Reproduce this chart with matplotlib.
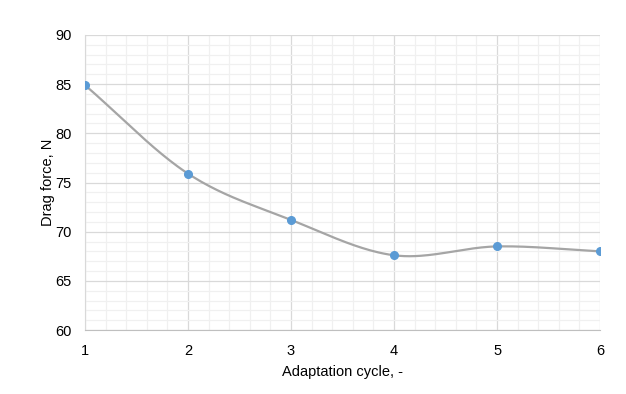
import numpy as np
import matplotlib
matplotlib.use('Agg')
import matplotlib.pyplot as plt
from matplotlib.ticker import MultipleLocator

# datos
ciclo = [1, 2, 3, 4, 5, 6]
fuerza = [84.9, 75.9, 71.2, 67.6, 68.5, 68.0]

plt.rcParams['font.family'] = ['Liberation Sans', 'DejaVu Sans']

fig = plt.figure(figsize=(6.26, 3.94), dpi=100)
ax = fig.add_axes([0.1358, 0.1624, 0.8227, 0.7488])

# curva suavizada tipo Excel (Catmull-Rom) solo para el trazo
x = np.array(ciclo, dtype=float)
y = np.array(fuerza, dtype=float)
px = np.concatenate([[2 * x[0] - x[1]], x, [2 * x[-1] - x[-2]]])
py = np.concatenate([[2 * y[0] - y[1]], y, [2 * y[-1] - y[-2]]])
cx, cy = [], []
t = np.linspace(0, 1, 40)
for i in range(1, len(px) - 2):
    p0x, p1x, p2x, p3x = px[i - 1], px[i], px[i + 1], px[i + 2]
    p0y, p1y, p2y, p3y = py[i - 1], py[i], py[i + 1], py[i + 2]
    b1x, b1y = p1x + (p2x - p0x) / 6, p1y + (p2y - p0y) / 6
    b2x, b2y = p2x - (p3x - p1x) / 6, p2y - (p3y - p1y) / 6
    cx.extend((1 - t) ** 3 * p1x + 3 * (1 - t) ** 2 * t * b1x + 3 * (1 - t) * t ** 2 * b2x + t ** 3 * p2x)
    cy.extend((1 - t) ** 3 * p1y + 3 * (1 - t) ** 2 * t * b1y + 3 * (1 - t) * t ** 2 * b2y + t ** 3 * p2y)

ax.plot(cx, cy, color='#a5a5a5', lw=1.6, zorder=3)
ax.plot(ciclo, fuerza, 'o', color='#5b9bd5', markersize=5.5, zorder=4)

ax.set_xlim(1, 6)
ax.set_ylim(60, 90)
ax.xaxis.set_major_locator(MultipleLocator(1))
ax.xaxis.set_minor_locator(MultipleLocator(0.2))
ax.yaxis.set_major_locator(MultipleLocator(5))
ax.yaxis.set_minor_locator(MultipleLocator(1))
ax.grid(which='major', color='#d9d9d9', lw=0.9)
ax.grid(which='minor', color='#f0f0f0', lw=0.9)
ax.set_axisbelow(True)

for s in ['top', 'right']:
    ax.spines[s].set_visible(False)
ax.spines['left'].set_color('#d9d9d9')
ax.spines['bottom'].set_color('#bfbfbf')
ax.tick_params(which='both', length=0, labelsize=10.5, colors='#000000')
ax.tick_params(axis='y', pad=9.5)
ax.tick_params(axis='x', pad=10)

ax.set_xlabel('Adaptation cycle, -', fontsize=10.5, labelpad=5)
ax.set_ylabel('Drag force, N', fontsize=10.5, labelpad=0)

fig.savefig('out.png', dpi=100)
